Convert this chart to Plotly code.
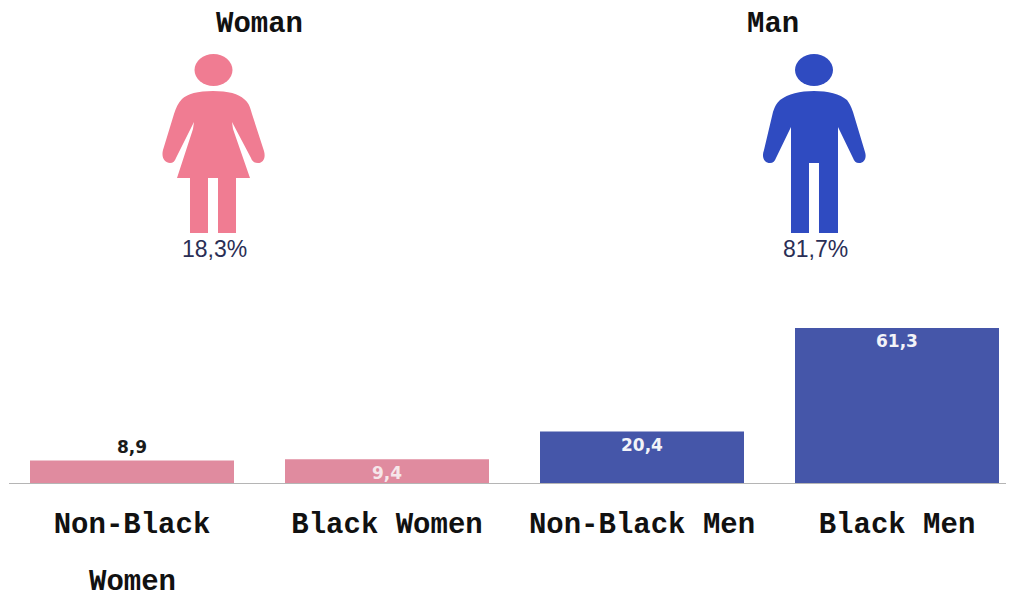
import re
import plotly.graph_objects as go

W, H = 1021, 592

categories = ["Non-Black", "Black Women", "Non-Black Men", "Black Men"]
values = [8.9, 9.4, 20.4, 61.3]
bar_colors = ["#E08B9F", "#E08B9F", "#4556A9", "#4556A9"]
label_shifts = [14, -14, -14, -13]
label_colors = ["#1a1a1a", "#f6e6ea", "#f2f3f8", "#f2f3f8"]
wrapped_label = "Women"
gender_titles = ["Woman", "Man"]
gender_shares = ["18,3%", "81,7%"]
gender_colors = ["#F07C92", "#2F4BC1"]

MONO = "Liberation Mono"


def paper_path(path):
    """Turn a path written in page pixels into paper coordinates."""
    tokens = re.findall(r"[A-Za-z]|-?[\d.]+", path)
    out, is_x = [], True
    for t in tokens:
        if t.isalpha():
            out.append(t)
            is_x = True
        else:
            v = float(t)
            out.append(f"{v / W:.5f}" if is_x else f"{1 - v / H:.5f}")
            is_x = not is_x
    return " ".join(out)


WOMAN_BODY = (
    "M213 91 C198 91 187 94 182 99 C178 103 176 108 174 114 L163 150 "
    "C161 158 165 163 170 163 C173 163 175 161 176 158 L194 122 "
    "L193 129 L177 178 L190 178 L190 233 L208 233 L208 178 L218 178 L218 233 L236 233 "
    "L236 178 L250 178 L233 129 L232 122 L251 158 C252 161 254 163 258 163 "
    "C263 163 266 158 264 151 L252 114 C250 106 248 102 244 99 C239 94 228 91 213 91 Z"
)
MAN_BODY = (
    "M814 91 C800 91 788 94 780 100 C777 103 775 106 773 112 L764 150 "
    "C761 158 765 163 770 163 C773 163 775 161 776 158 L791 127 "
    "L791 233 L809 233 L809 163 L819 163 L819 233 L838 233 L838 127 "
    "L853 158 C854 161 856 163 859 163 C864 163 867 158 865 152 L853 112 "
    "C851 106 849 103 847 100 C840 94 828 91 814 91 Z"
)
HEADS = [(213.5, 70, 19, 16), (814, 70, 19, 16)]
BODIES = [WOMAN_BODY, MAN_BODY]

fig = go.Figure(
    go.Bar(
        x=categories,
        y=values,
        marker=dict(color=bar_colors, line=dict(width=0)),
        hoverinfo="skip",
    )
)

shapes = []
for (cx, cy, rx, ry), body, color in zip(HEADS, BODIES, gender_colors):
    shapes.append(dict(type="circle", xref="paper", yref="paper",
                       x0=(cx - rx) / W, x1=(cx + rx) / W,
                       y0=1 - (cy + ry) / H, y1=1 - (cy - ry) / H,
                       fillcolor=color, line=dict(width=0), layer="above"))
    shapes.append(dict(type="path", xref="paper", yref="paper",
                       path=paper_path(body), fillcolor=color,
                       line=dict(width=0), layer="above"))

annotations = []
for title, share, tx, sx in zip(gender_titles, gender_shares, [259, 773], [214, 815]):
    annotations.append(dict(text=f"<b>{title}</b>", x=tx / W, y=1 - 24 / H, xref="paper", yref="paper",
                            showarrow=False, xanchor="center", yanchor="middle",
                            font=dict(family=MONO, size=29, color="#111111")))
    annotations.append(dict(text=share, x=sx / W, y=1 - 249 / H, xref="paper", yref="paper",
                            showarrow=False, xanchor="center", yanchor="middle",
                            font=dict(family="Liberation Sans", size=23, color="#2A2E55")))
for cat, val, shift, col in zip(categories, values, label_shifts, label_colors):
    annotations.append(dict(text="<b>" + f"{val:.1f}".replace(".", ",") + "</b>",
                            x=cat, y=val, xref="x", yref="y", yshift=shift,
                            showarrow=False, xanchor="center", yanchor="middle",
                            font=dict(family="DejaVu Sans", size=17, color=col)))
annotations.append(dict(text=f"<b>{wrapped_label}</b>", x=categories[0], xref="x",
                        y=1 - 582 / H, yref="paper", showarrow=False,
                        xanchor="center", yanchor="middle",
                        font=dict(family=MONO, size=29, color="#111111")))

PLOT_L, PLOT_R, PLOT_T, PLOT_B = 9, 1006, 310, 483
PITCH = 255
CENTER0 = 132
PX_PER_UNIT = 155 / 61.3

fig.update_layout(
    width=W, height=H, autosize=False,
    margin=dict(l=0, r=0, t=0, b=0),
    paper_bgcolor="white", plot_bgcolor="white",
    bargap=0.2,
    showlegend=False,
    shapes=shapes,
    annotations=annotations,
    xaxis=dict(
        domain=[PLOT_L / W, PLOT_R / W],
        range=[(PLOT_L - CENTER0) / PITCH, (PLOT_R - CENTER0) / PITCH],
        type="category",
        tickmode="array", tickvals=categories,
        ticktext=[f"<b>{c}</b>" for c in categories],
        tickfont=dict(family=MONO, size=29, color="#111111"),
        ticks="outside", ticklen=14, tickcolor="rgba(0,0,0,0)",
        showline=True, linecolor="#B5B5B5", linewidth=1,
        showgrid=False, zeroline=False,
        tickangle=0,
    ),
    yaxis=dict(
        domain=[1 - PLOT_B / H, 1 - PLOT_T / H],
        range=[0, (PLOT_B - PLOT_T) / PX_PER_UNIT],
        visible=False,
    ),
)

fig.write_html("out.html", config={"displayModeBar": False},
               post_script="document.body.style.margin='0';")
